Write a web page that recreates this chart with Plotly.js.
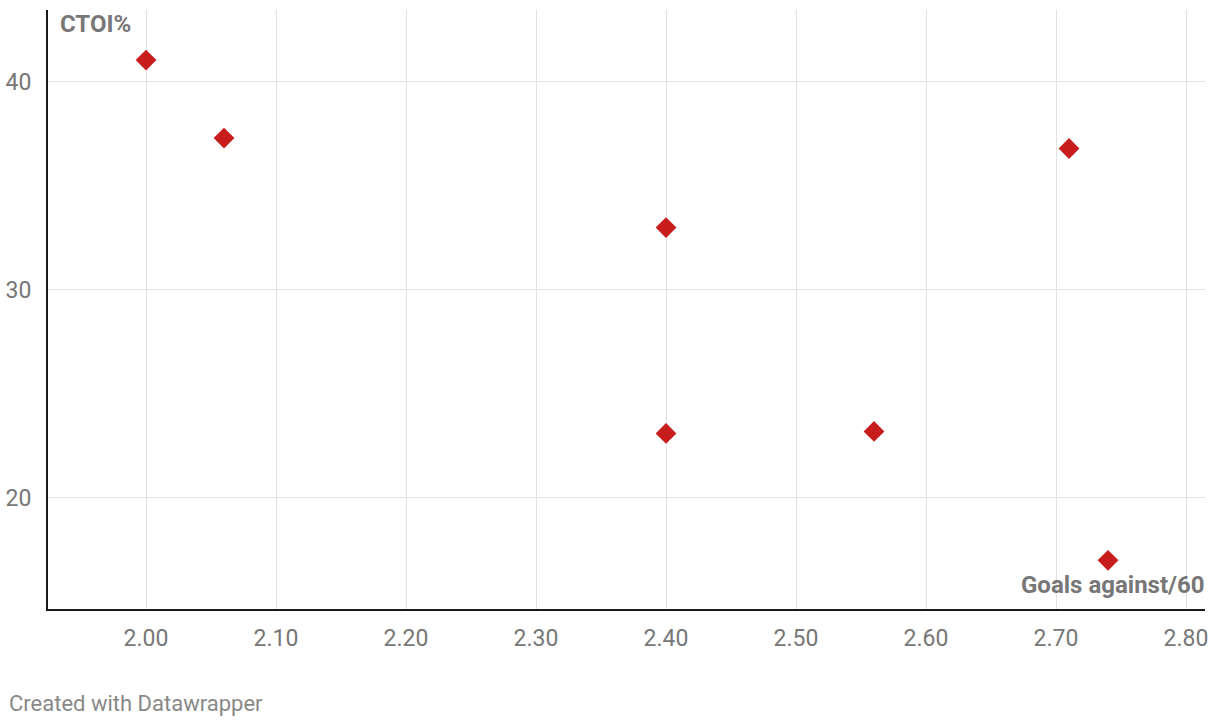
<!DOCTYPE html>
<html><head><meta charset="utf-8">
<script src="https://cdn.plot.ly/plotly-3.0.1.min.js"></script>
<style>html,body{margin:0;padding:0;background:#fff;}#c{width:1220px;height:726px;}</style>
</head><body><div id="c"></div>
<script>
const goalsAgainst60 = [2.00, 2.06, 2.40, 2.40, 2.56, 2.71, 2.74];
const ctoiPct = [41.05, 37.3, 33.0, 23.1, 23.2, 36.8, 17.0];
const xTicks = [2.0, 2.1, 2.2, 2.3, 2.4, 2.5, 2.6, 2.7, 2.8];
const xTickLabels = ["2.00","2.10","2.20","2.30","2.40","2.50","2.60","2.70","2.80"];
const yTicks = [20, 30, 40];
const yTickLabels = ["20","30","40"];

const trace = {
  x: goalsAgainst60, y: ctoiPct, type: 'scatter', mode: 'markers',
  marker: {symbol: 'diamond', size: 16, color: '#c71e1d', line: {width: 0}},
  hoverinfo: 'x+y'
};
const tickFont = {family: 'Roboto, sans-serif', size: 23, color: '#777'};
const layout = {
  width: 1220, height: 726,
  margin: {l: 48, r: 15, t: 10, b: 117},
  paper_bgcolor: '#fff', plot_bgcolor: '#fff',
  showlegend: false,
  font: {family: 'Roboto, sans-serif', color: '#777', size: 23},
  xaxis: {
    range: [1.9246, 2.8146], tickvals: xTicks, ticktext: xTickLabels,
    showgrid: true, gridcolor: '#e2e2e2', gridwidth: 1,
    zeroline: false, showline: true, linecolor: '#1a1a1a', linewidth: 2,
    ticks: '', ticklabelstandoff: 7, tickfont: tickFont
  },
  yaxis: {
    range: [14.66, 43.46], tickvals: yTicks, ticktext: yTickLabels,
    showgrid: true, gridcolor: '#e2e2e2', gridwidth: 1,
    zeroline: false, showline: true, linecolor: '#1a1a1a', linewidth: 2,
    ticks: '', ticklabelstandoff: 10, tickfont: tickFont
  },
  annotations: [
    {text: '<b>CTOI%</b>', xref: 'paper', yref: 'paper', x: 0, y: 1, xanchor: 'left', yanchor: 'top',
     xshift: 10, yshift: 2, showarrow: false, font: {family: 'Roboto, sans-serif', size: 24, color: '#777'}},
    {text: '<b>Goals against/60</b>', xref: 'paper', yref: 'paper', x: 1, y: 0, xanchor: 'right', yanchor: 'bottom',
     xshift: 2, yshift: 8, showarrow: false, font: {family: 'Roboto, sans-serif', size: 24, color: '#777'}},
    {text: 'Created with Datawrapper', xref: 'paper', yref: 'paper', x: 0, y: 0, xanchor: 'left', yanchor: 'middle',
     xshift: -41, yshift: -94, showarrow: false, font: {family: 'Roboto, sans-serif', size: 22, color: '#888'}}
  ]
};
Plotly.newPlot('c', [trace], layout, {displayModeBar: false, staticPlot: true});
</script></body></html>
